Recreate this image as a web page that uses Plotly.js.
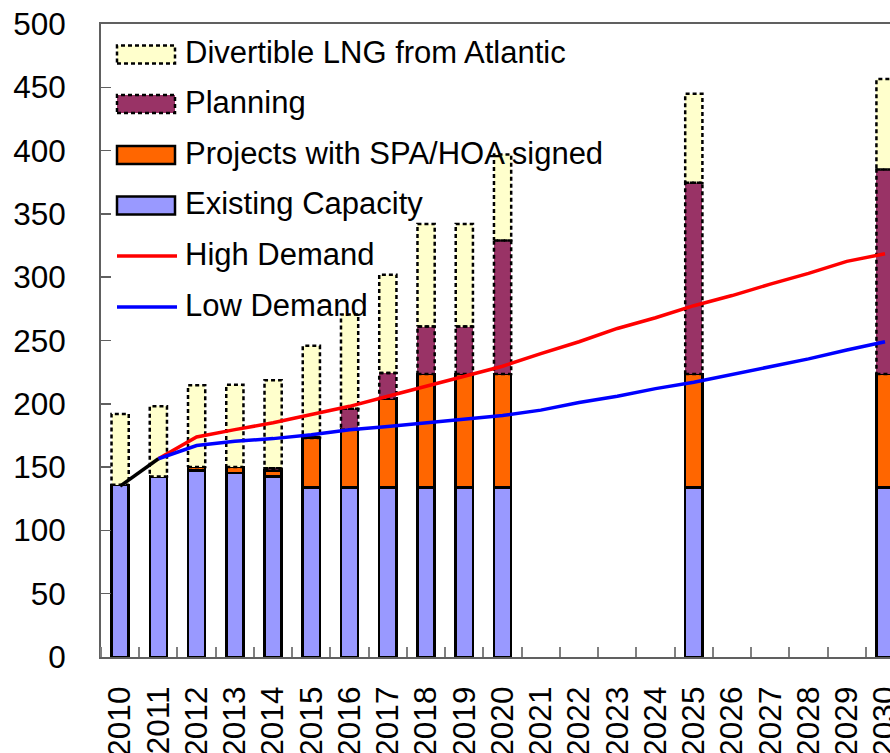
<!DOCTYPE html>
<html><head><meta charset="utf-8">
<script src="https://cdn.plot.ly/plotly-3.0.1.min.js"></script>
<style>html,body{margin:0;padding:0;background:#fff}#chart{width:890px;height:753px}</style>
</head><body><div id="chart"></div>
<script>
// ---- data ----
const years = ['2010','2011','2012','2013','2014','2015','2016','2017','2018','2019','2020',
               '2021','2022','2023','2024','2025','2026','2027','2028','2029','2030'];
const existing  = [136, 142.5, 147.5, 145.5, 142.5, 134, 134, 134, 134, 134, 134, null, null, null, null, 134, null, null, null, null, 134];
const spaHoa    = [null, null, 2.5, 4.5, 5, 39, 45.6, 70, 89.6, 89.6, 89.6, null, null, null, null, 89.6, null, null, null, null, 89.6];
const planning  = [null, null, null, null, 1.5, 0.8, 16.4, 20.4, 37.4, 37.4, 105.4, null, null, null, null, 151, null, null, null, null, 161.4];
const divertible= [56, 55.5, 64.6, 65, 69.6, 72, 74.6, 77.6, 81, 81, 68, null, null, null, null, 70.3, null, null, null, null, 71.5];
const highDemand= [null, 156.6, 173.8, 179.6, 185, 191.5, 198, 206, 213.9, 221.8, 229.7, 239.7, 249, 259.5, 268, 277.5, 285.5, 294.5, 303, 312.5, 318.5];
const lowDemand = [null, 156.6, 167, 170.4, 172.5, 175.6, 179.5, 182, 185, 187.5, 190.7, 195, 201, 206, 212, 217, 223, 229, 235.5, 242.5, 249];
const history   = [135, 156.6, null, null, null, null, null, null, null, null, null, null, null, null, null, null, null, null, null, null, null];
const seriesNames = ['Divertible LNG from Atlantic','Planning','Projects with SPA/HOA signed','Existing Capacity','High Demand','Low Demand'];

// ---- build ----
const xs = years.map((y,i)=>i);
const BW = 0.45;
const v = a => a.map(d => d == null ? 0 : d);

function outline(bases, heights){
  const X=[],Y=[];
  heights.forEach((h,i)=>{
    if(h==null) return;
    const b=bases[i], t=b+h, l=i-BW/2, r=i+BW/2;
    X.push(l,r,r,l,l,null); Y.push(b,b,t,t,b,null);
  });
  return {X,Y};
}
const base3 = existing.map((d,i)=>v(existing)[i]+v(spaHoa)[i]);
const base4 = existing.map((d,i)=>base3[i]+v(planning)[i]);
const oPlan = outline(base3, planning);
const oDiv  = outline(base4, divertible);

const traces = [
  {type:'bar', x:xs, y:existing, width:BW, name:seriesNames[3], marker:{color:'#9999FF', line:{color:'#000', width:2.5}}},
  {type:'bar', x:xs, y:spaHoa, width:BW, name:seriesNames[2], marker:{color:'#FF6600', line:{color:'#000', width:2.5}}},
  {type:'bar', x:xs, y:planning, width:BW, name:seriesNames[1], marker:{color:'#993366', line:{width:0}}},
  {type:'bar', x:xs, y:divertible, width:BW, name:seriesNames[0], marker:{color:'#FFFFCC', line:{width:0}}},
  {type:'scatter', mode:'lines', x:oPlan.X, y:oPlan.Y, line:{color:'#000', width:2.5, dash:'4px,3px'}, connectgaps:false},
  {type:'scatter', mode:'lines', x:oDiv.X, y:oDiv.Y, line:{color:'#000', width:2.5, dash:'4px,3px'}, connectgaps:false},
  {type:'scatter', mode:'lines', x:xs, y:highDemand, name:seriesNames[4], line:{color:'#FF0000', width:3.5}},
  {type:'scatter', mode:'lines', x:xs, y:lowDemand, name:seriesNames[5], line:{color:'#0000FF', width:3.5}},
  {type:'scatter', mode:'lines', x:xs, y:history, line:{color:'#000000', width:3.5}}
];

// ---- manual legend (wide swatches as in the original) ----
const L=101, R=890, T=24, B=657;
const px = x => (x-L)/(R-L), py = y => (B-y)/(B-T);
const rowY = [54.5, 104, 155, 205.5, 256, 307];
const swatch = [
  {fill:'#FFFFCC', dash:'4px,3px'},
  {fill:'#993366', dash:'4px,3px'},
  {fill:'#FF6600', dash:'solid'},
  {fill:'#9999FF', dash:'solid'},
  {line:'#FF0000'},
  {line:'#0000FF'}
];
const shapes=[], annotations=[];
seriesNames.forEach((n,i)=>{
  const yc=rowY[i], s=swatch[i];
  if(s.fill){
    shapes.push({type:'rect', xref:'paper', yref:'paper', x0:px(117), x1:px(175), y0:py(yc+9), y1:py(yc-9),
      fillcolor:s.fill, line:{color:'#000', width:2.5, dash:s.dash}});
  } else {
    shapes.push({type:'line', xref:'paper', yref:'paper', x0:px(117), x1:px(177), y0:py(yc), y1:py(yc),
      line:{color:s.line, width:3.5}});
  }
  annotations.push({xref:'paper', yref:'paper', x:px(183), y:py(yc-2), xanchor:'left', yanchor:'middle',
    text:n, showarrow:false, font:{size:31, color:'#000'}});
});

const layout = {
  width:890, height:753,
  margin:{l:L, r:0, t:T, b:753-B, pad:0},
  paper_bgcolor:'#fff', plot_bgcolor:'#fff',
  font:{family:'"Liberation Sans", Arial, sans-serif', color:'#000'},
  barmode:'stack', showlegend:false, hovermode:false,
  xaxis:{range:[-0.5, 20.13], tickmode:'array', tickvals:xs, ticktext:years, tickangle:-90,
    ticks:'', showgrid:false, zeroline:false, showline:true, linecolor:'#606060', linewidth:2, mirror:true,
    tickfont:{size:31.5}, ticklabelstandoff:15, ticklabeloverflow:'allow',
    minor:{tickmode:'linear', tick0:0.5, dtick:1, ticks:'inside', ticklen:10, tickcolor:'#808080', tickwidth:2, showgrid:false}},
  yaxis:{range:[0,500], dtick:50, ticks:'inside', ticklen:10, tickcolor:'#606060', tickwidth:1.5,
    showgrid:false, zeroline:false, showline:true, linecolor:'#606060', linewidth:2,
    tickfont:{size:31.5}, ticklabelstandoff:27},
  shapes, annotations
};
Plotly.newPlot('chart', traces, layout, {staticPlot:true, displayModeBar:false});
</script></body></html>
